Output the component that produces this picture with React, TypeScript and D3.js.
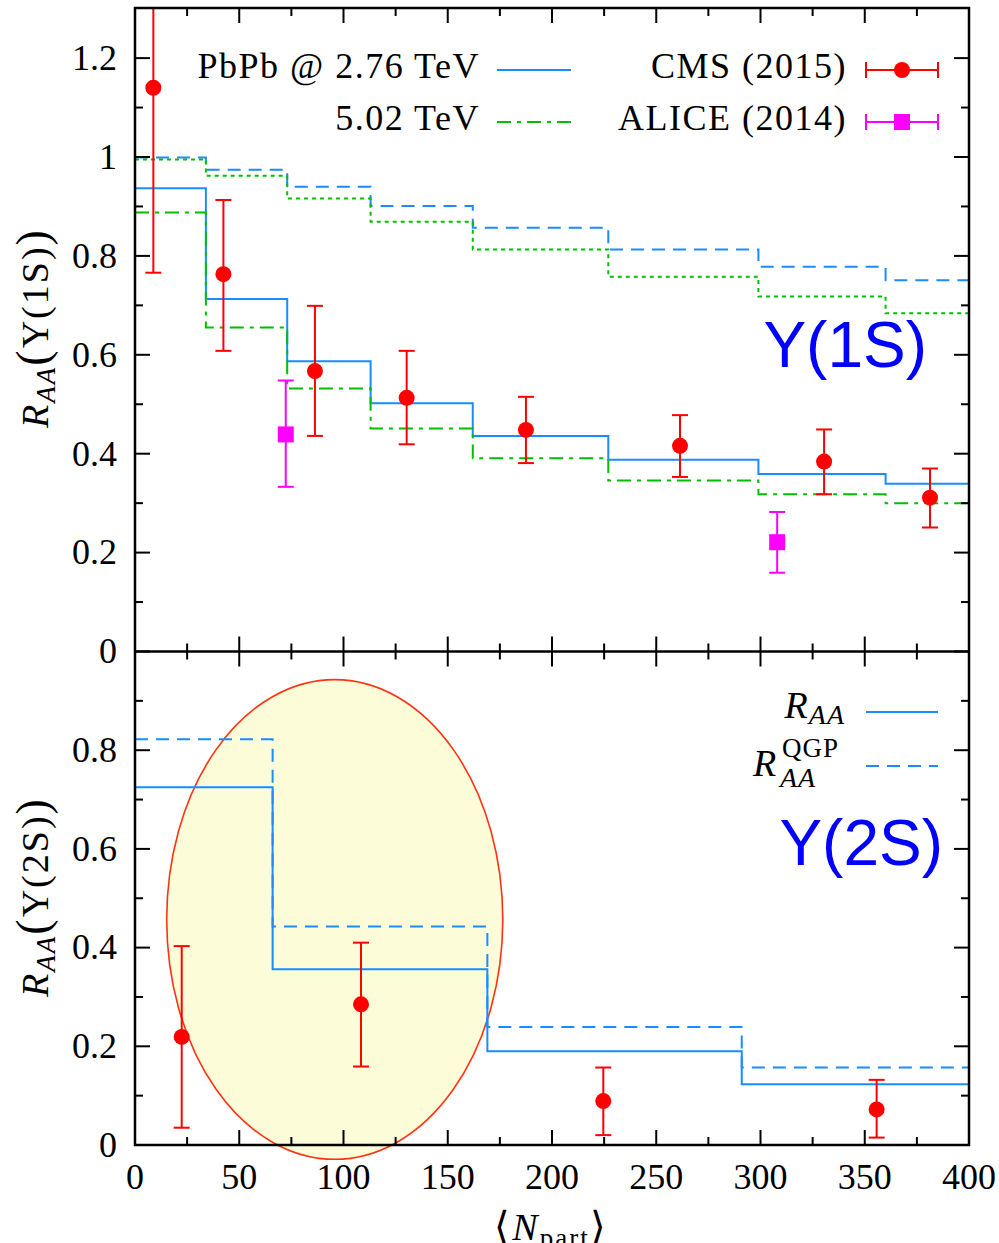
import React from 'react';
import * as d3 from 'd3';

// Upsilon(1S): bin edges in <Npart> and model RAA per bin
const EDGES_1S = [0, 34, 73, 113, 162, 227, 299, 360, 400];
const RAA_1S_276 = [0.937, 0.713, 0.587, 0.502, 0.436, 0.388, 0.359, 0.339];
const RAA_1S_502 = [0.888, 0.655, 0.532, 0.451, 0.391, 0.346, 0.318, 0.3];
const QGP_1S_276 = [0.999, 0.974, 0.94, 0.901, 0.857, 0.813, 0.778, 0.751];
const QGP_1S_502 = [0.995, 0.962, 0.916, 0.869, 0.813, 0.758, 0.718, 0.684];

const CMS_1S_NPART = [8.8, 42.4, 86.3, 130.3, 187.5, 261.4, 330.5, 381.3];
const CMS_1S_RAA = [1.14, 0.763, 0.567, 0.513, 0.448, 0.416, 0.384, 0.311];
const CMS_1S_LO = [0.766, 0.608, 0.436, 0.419, 0.381, 0.353, 0.318, 0.251];
const CMS_1S_HI = [1.52, 0.913, 0.699, 0.608, 0.515, 0.478, 0.449, 0.37];

const ALICE_NPART = [72.3, 308];
const ALICE_RAA = [0.439, 0.221];
const ALICE_LO = [0.333, 0.159];
const ALICE_HI = [0.548, 0.282];

// Upsilon(2S)
const EDGES_2S = [0, 66, 169, 291, 400];
const RAA_2S = [0.725, 0.356, 0.19, 0.123];
const QGP_2S = [0.822, 0.443, 0.239, 0.157];

const CMS_2S_NPART = [22.4, 108.4, 224.6, 355.7];
const CMS_2S_RAA = [0.219, 0.285, 0.089, 0.072];
const CMS_2S_LO = [0.035, 0.159, 0.02, 0.015];
const CMS_2S_HI = [0.403, 0.41, 0.157, 0.132];

// highlighted region (center and half axes in data units)
const ELLIPSE = { cx: 95.8, cy: 0.457, rx: 80.6, ry: 0.486 };

const X_TICKS = [0, 50, 100, 150, 200, 250, 300, 350, 400];
const X_MINOR = [25, 75, 125, 175, 225, 275, 325, 375];
const Y_TICKS_TOP = [0, 0.2, 0.4, 0.6, 0.8, 1, 1.2];
const Y_MINOR_TOP = [0.1, 0.3, 0.5, 0.7, 0.9, 1.1];
const Y_TICKS_BOT = [0, 0.2, 0.4, 0.6, 0.8];
const Y_MINOR_BOT = [0.1, 0.3, 0.5, 0.7, 0.9];

const BLUE = '#1a8cff';
const GREEN = '#00bf00';
const RED = '#ff0000';
const MAGENTA = '#ff00ff';
const SERIF = '"Liberation Serif", "Times New Roman", serif';
const SANS = '"Liberation Sans", Arial, sans-serif';

const L = 135, R = 969, T = 8, MID = 651.5, B = 1145;

const x = d3.scaleLinear().domain([0, 400]).range([L, R]);
const yTop = d3.scaleLinear().domain([0, 1.3]).range([MID, MID - 1.3 * 494.5]);
const yBot = d3.scaleLinear().domain([0, 1]).range([B, MID]);

const stepPath = (edges: number[], vals: number[], y: d3.ScaleLinear<number, number>) => {
  const pts: [number, number][] = vals.map((v, i) => [edges[i], v]);
  pts.push([edges[edges.length - 1], vals[vals.length - 1]]);
  return d3.line<[number, number]>()
    .x(d => x(d[0]))
    .y(d => y(d[1]))
    .curve(d3.curveStepAfter)(pts) || '';
};

const ErrPoints = ({ xs, ys, lo, hi, y, color, square }: any) => (
  <g stroke={color} fill={color} strokeWidth={2}>
    {xs.map((n: number, i: number) => {
      const cx = x(n), cy = y(ys[i]);
      return (
        <g key={i}>
          <line x1={cx} x2={cx} y1={y(lo[i])} y2={y(hi[i])} />
          <line x1={cx - 8} x2={cx + 8} y1={y(lo[i])} y2={y(lo[i])} />
          <line x1={cx - 8} x2={cx + 8} y1={y(hi[i])} y2={y(hi[i])} />
          {square
            ? <rect x={cx - 8} y={cy - 8} width={16} height={16} stroke="none" />
            : <circle cx={cx} cy={cy} r={8} stroke="none" />}
        </g>
      );
    })}
  </g>
);

const Axes = ({ y, ticks, minor, top, bottom }: any) => (
  <g stroke="#000" strokeWidth={2}>
    {ticks.map((t: number) => (
      <g key={'m' + t}>
        <line x1={L} x2={L + 15} y1={y(t)} y2={y(t)} />
        <line x1={R} x2={R - 15} y1={y(t)} y2={y(t)} />
        <text x={L - 18} y={y(t)} dy="0.33em" textAnchor="end" stroke="none" fill="#000"
          fontFamily={SERIF} fontSize={36}>{String(t)}</text>
      </g>
    ))}
    {minor.map((t: number) => (
      <g key={'n' + t}>
        <line x1={L} x2={L + 8} y1={y(t)} y2={y(t)} />
        <line x1={R} x2={R - 8} y1={y(t)} y2={y(t)} />
      </g>
    ))}
    {X_TICKS.map(t => (
      <g key={'x' + t}>
        <line x1={x(t)} x2={x(t)} y1={top} y2={top + 15} />
        <line x1={x(t)} x2={x(t)} y1={bottom} y2={bottom - 15} />
      </g>
    ))}
    {X_MINOR.map(t => (
      <g key={'xm' + t}>
        <line x1={x(t)} x2={x(t)} y1={top} y2={top + 8} />
        <line x1={x(t)} x2={x(t)} y1={bottom} y2={bottom - 8} />
      </g>
    ))}
  </g>
);

const YLabel = ({ cy, state }: { cy: number; state: string }) => (
  <text transform={`translate(48,${cy}) rotate(-90)`} textAnchor="middle" fontFamily={SERIF}
    fontSize={38} letterSpacing={2}>
    <tspan fontStyle="italic">R</tspan>
    <tspan fontStyle="italic" fontSize={27} dy={7}>AA</tspan>
    <tspan dy={-7} fontSize={46}>(</tspan>
    <tspan>Υ({state})</tspan>
    <tspan fontSize={46}>)</tspan>
  </text>
);

export default function App() {
  const erx = x(ELLIPSE.rx) - x(0);
  const ery = yBot(0) - yBot(ELLIPSE.ry);
  return (
    <svg width={999} height={1243} style={{ position: 'absolute', left: 0, top: 0, background: '#fff' }}>
      <defs>
        <clipPath id="clipTop"><rect x={L} y={T} width={R - L} height={MID - T} /></clipPath>
        <clipPath id="clipBot"><rect x={L} y={MID} width={R - L} height={B - MID} /></clipPath>
      </defs>

      {/* top panel */}
      <g clipPath="url(#clipTop)" fill="none" strokeWidth={2}>
        <path d={stepPath(EDGES_1S, QGP_1S_276, yTop)} stroke={BLUE} strokeDasharray="13,8" />
        <path d={stepPath(EDGES_1S, QGP_1S_502, yTop)} stroke={GREEN} strokeDasharray="4,4" />
        <path d={stepPath(EDGES_1S, RAA_1S_276, yTop)} stroke={BLUE} />
        <path d={stepPath(EDGES_1S, RAA_1S_502, yTop)} stroke={GREEN} strokeDasharray="14,6,4,6" />
        <ErrPoints xs={ALICE_NPART} ys={ALICE_RAA} lo={ALICE_LO} hi={ALICE_HI} y={yTop} color={MAGENTA} square />
        <ErrPoints xs={CMS_1S_NPART} ys={CMS_1S_RAA} lo={CMS_1S_LO} hi={CMS_1S_HI} y={yTop} color={RED} />
      </g>

      {/* bottom panel: highlighted ellipse, spills a bit below the axis */}
      <ellipse cx={x(ELLIPSE.cx)} cy={yBot(ELLIPSE.cy)} rx={erx} ry={ery}
        fill="#fcfcd9" stroke="#ff3311" strokeWidth={1.6} />
      <g clipPath="url(#clipBot)" fill="none" strokeWidth={2}>
        <path d={stepPath(EDGES_2S, QGP_2S, yBot)} stroke={BLUE} strokeDasharray="13,8" />
        <path d={stepPath(EDGES_2S, RAA_2S, yBot)} stroke={BLUE} />
        <ErrPoints xs={CMS_2S_NPART} ys={CMS_2S_RAA} lo={CMS_2S_LO} hi={CMS_2S_HI} y={yBot} color={RED} />
      </g>

      {/* axes */}
      <Axes y={yTop} ticks={Y_TICKS_TOP} minor={Y_MINOR_TOP} top={T} bottom={MID} />
      <Axes y={yBot} ticks={Y_TICKS_BOT} minor={Y_MINOR_BOT} top={MID} bottom={B} />
      <rect x={L} y={T} width={R - L} height={B - T} fill="none" stroke="#000" strokeWidth={2.5} />
      <line x1={L} x2={R} y1={MID} y2={MID} stroke="#000" strokeWidth={2.5} />

      {X_TICKS.map(t => (
        <text key={t} x={x(t)} y={1189} textAnchor="middle" fontFamily={SERIF} fontSize={36}>{t}</text>
      ))}
      <text x={551} y={1240} textAnchor="middle" fontFamily={SERIF} fontSize={38} letterSpacing={2}>
        <tspan fontSize={40}>⟨</tspan><tspan fontStyle="italic">N</tspan>
        <tspan fontSize={27} dy={7}>part</tspan><tspan dy={-7} fontSize={40}>⟩</tspan>
      </text>

      <YLabel cy={328} state="1S" />
      <YLabel cy={897} state="2S" />

      {/* top legend */}
      <g fontFamily={SERIF} fontSize={36} textAnchor="end" letterSpacing={1.5}>
        <text x={480} y={78}>PbPb @ 2.76 TeV</text>
        <text x={480} y={130}>5.02 TeV</text>
        <text x={847} y={78}>CMS (2015)</text>
        <text x={847} y={130}>ALICE (2014)</text>
      </g>
      <line x1={497} x2={571} y1={70} y2={70} stroke={BLUE} strokeWidth={2} />
      <line x1={497} x2={571} y1={122} y2={122} stroke={GREEN} strokeWidth={2} strokeDasharray="14,6,4,6" />
      <g stroke={RED} strokeWidth={2} fill={RED}>
        <line x1={866} x2={938} y1={70} y2={70} />
        <line x1={866} x2={866} y1={62} y2={78} />
        <line x1={938} x2={938} y1={62} y2={78} />
        <circle cx={902} cy={70} r={8} stroke="none" />
      </g>
      <g stroke={MAGENTA} strokeWidth={2} fill={MAGENTA}>
        <line x1={866} x2={938} y1={122} y2={122} />
        <line x1={866} x2={866} y1={114} y2={130} />
        <line x1={938} x2={938} y1={114} y2={130} />
        <rect x={894} y={114} width={16} height={16} stroke="none" />
      </g>

      {/* bottom legend */}
      <text x={845} y={718} textAnchor="end" fontFamily={SERIF} fontSize={38} letterSpacing={1}>
        <tspan fontStyle="italic">R</tspan><tspan fontStyle="italic" fontSize={28} dy={6}>AA</tspan>
      </text>
      <g fontFamily={SERIF}>
        <text x={753} y={776} fontSize={38} fontStyle="italic">R</text>
        <text x={782} y={757} fontSize={27} letterSpacing={1}>QGP</text>
        <text x={780} y={787} fontSize={28} fontStyle="italic" letterSpacing={1}>AA</text>
      </g>
      <line x1={866} x2={938} y1={712} y2={712} stroke={BLUE} strokeWidth={2} />
      <line x1={866} x2={938} y1={766} y2={766} stroke={BLUE} strokeWidth={2} strokeDasharray="13,8" />

      <text x={927} y={367} textAnchor="end" fontFamily={SANS} fontSize={64} fill="#0000ff">Υ(1S)</text>
      <text x={943} y={865} textAnchor="end" fontFamily={SANS} fontSize={64} fill="#0000ff">Υ(2S)</text>
    </svg>
  );
}
